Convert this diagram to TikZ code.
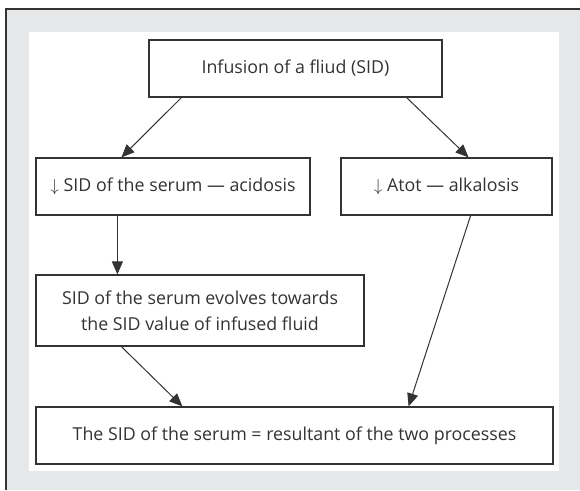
\documentclass[tikz,border=0pt]{standalone}
\usepackage{fontspec}
\setmainfont{Open Sans}
\usepackage{tikz}
\usetikzlibrary{arrows.meta}
\definecolor{framegray}{HTML}{E6E7E8}
\definecolor{ink}{HTML}{333333}
\tikzset{
  stepbox/.style={draw=ink, line width=1.2pt, fill=white, text=ink, inner sep=0pt,
    align=center, font=\fontsize{17.8}{26}\selectfont},
  arr/.style={draw=ink, line width=1pt, -{Triangle[length=13pt,width=11pt]}}
}
\begin{document}
\begin{tikzpicture}[x=1pt,y=-1pt]
\useasboundingbox (0,0) rectangle (580,490);
% frame
\fill[framegray] (6,9) rectangle (580,490);
\draw[ink, line width=1.5pt] (6,490) -- (6,9) -- (580,9);
\fill[white] (29,32) rectangle (559,471);
% boxes
\node[stepbox, minimum width=293pt, minimum height=57pt] (fluid) at (295.5,68.5) {Infusion of a fliud (SID)};
\node[stepbox, minimum width=274pt, minimum height=57pt] (acid) at (173,186.5) {$\downarrow$ SID of the serum --- acidosis};
\node[stepbox, minimum width=211pt, minimum height=57pt] (alka) at (446.5,186.5) {$\downarrow$ Atot --- alkalosis};
\node[stepbox, minimum width=328pt, minimum height=71pt] (evolve) at (200,310.5) {SID of the serum evolves towards\\the SID value of infused fluid};
\node[stepbox, minimum width=517pt, minimum height=57pt] (result) at (294.5,435.5) {The SID of the serum = resultant of the two processes};
% arrows
\draw[arr] ([xshift=33pt]fluid.south west) -- ([xshift=86pt]acid.north west);
\draw[arr] ([xshift=-36pt]fluid.south east) -- ([xshift=-84pt]alka.north east);
\draw[arr] ([xshift=82pt]acid.south west) -- ([xshift=82pt]evolve.north west);
\draw[arr] ([xshift=86pt]evolve.south west) -- ([xshift=147pt]result.north west);
\draw[arr] ([xshift=-82pt]alka.south east) -- ([xshift=-145pt]result.north east);
\end{tikzpicture}
\end{document}
